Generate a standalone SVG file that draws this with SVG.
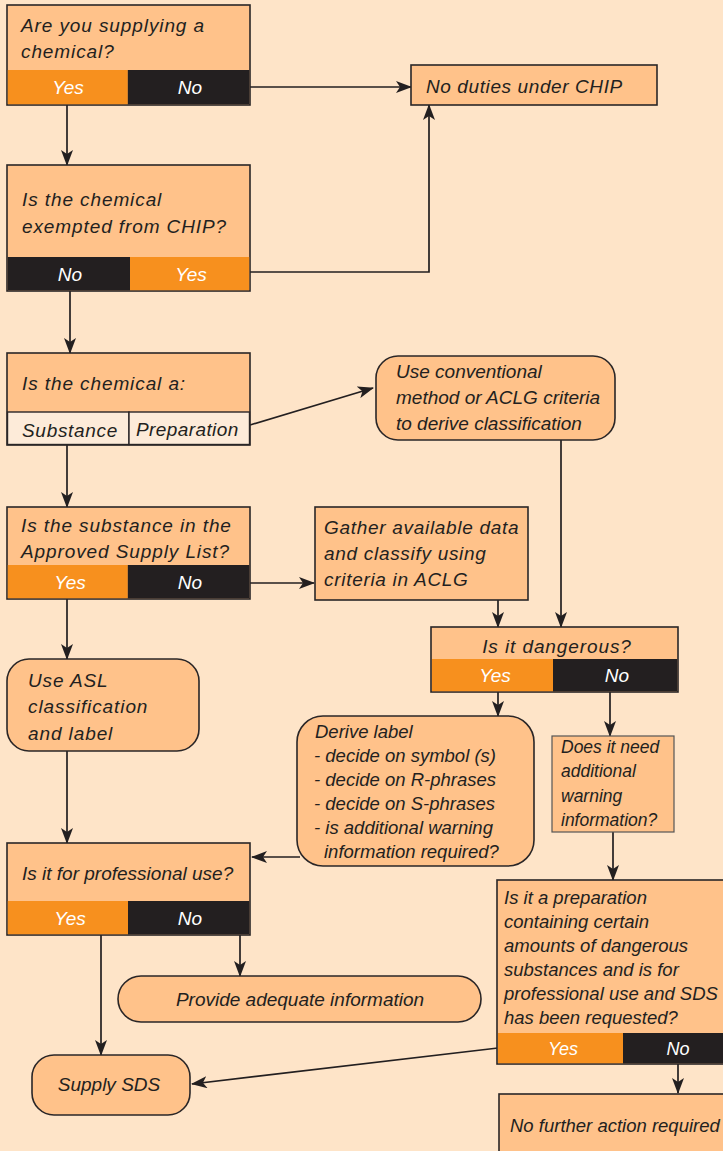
<svg xmlns="http://www.w3.org/2000/svg" width="723" height="1151" viewBox="0 0 723 1151">
<defs>
<marker id="ah" markerWidth="16" markerHeight="12" refX="15" refY="6" orient="auto" markerUnits="userSpaceOnUse">
<path d="M0,0 L16,6 L0,12 L4,6 z" fill="#231F20"/>
</marker>
<style>
.bg{fill:#FEE4C8}
.box{fill:#FFC28A;stroke:#2a2627;stroke-width:1.6}
.yes{fill:#F7901E}
.no{fill:#231F20}
.opt{fill:#FDEBD9;stroke:#2a2627;stroke-width:1.4}
.t{font-family:"Liberation Sans",Arial,sans-serif;font-style:italic;font-size:19px;fill:#231F20}
.ls{letter-spacing:0.9px}
.s{font-size:18.5px}
.xs{font-size:17.5px}
.w{font-family:"Liberation Sans",Arial,sans-serif;font-style:italic;font-size:19px;fill:#FFFFFF;text-anchor:middle}
.c{fill:none;stroke:#231F20;stroke-width:1.7}
</style>
</defs>
<rect class="bg" x="0" y="0" width="723" height="1151"/>

<g id="connectors">
<line class="c" x1="250" y1="87" x2="411" y2="87" marker-end="url(#ah)"/>
<line class="c" x1="67" y1="105" x2="67" y2="165" marker-end="url(#ah)"/>
<polyline class="c" points="250,272 429,272 429,105" marker-end="url(#ah)"/>
<line class="c" x1="70" y1="291" x2="70" y2="353" marker-end="url(#ah)"/>
<line class="c" x1="250" y1="425" x2="373" y2="388" marker-end="url(#ah)"/>
<line class="c" x1="67" y1="445" x2="67" y2="507" marker-end="url(#ah)"/>
<line class="c" x1="250" y1="583" x2="314" y2="583" marker-end="url(#ah)"/>
<line class="c" x1="561" y1="440" x2="561" y2="627" marker-end="url(#ah)"/>
<line class="c" x1="498" y1="600" x2="498" y2="627" marker-end="url(#ah)"/>
<line class="c" x1="67" y1="599" x2="67" y2="659" marker-end="url(#ah)"/>
<line class="c" x1="498" y1="692" x2="498" y2="716" marker-end="url(#ah)"/>
<line class="c" x1="610" y1="692" x2="610" y2="736" marker-end="url(#ah)"/>
<line class="c" x1="67" y1="751" x2="67" y2="843" marker-end="url(#ah)"/>
<line class="c" x1="300" y1="857" x2="252" y2="857" marker-end="url(#ah)"/>
<line class="c" x1="613" y1="832" x2="613" y2="880" marker-end="url(#ah)"/>
<line class="c" x1="101" y1="935" x2="101" y2="1055" marker-end="url(#ah)"/>
<line class="c" x1="240" y1="935" x2="240" y2="976" marker-end="url(#ah)"/>
<line class="c" x1="498" y1="1048" x2="192" y2="1084" marker-end="url(#ah)"/>
<line class="c" x1="678" y1="1064" x2="678" y2="1093" marker-end="url(#ah)"/>
</g>

<g id="q-supplying">
<rect class="box" x="7" y="5" width="243" height="100"/>
<rect class="yes" x="7.8" y="70" width="120" height="34.2"/>
<rect class="no" x="127.8" y="70" width="121.4" height="34.2"/>
<text class="t ls" x="21" y="32">Are you supplying a</text>
<text class="t ls" x="21" y="58">chemical?</text>
<text class="w" x="68" y="94">Yes</text>
<text class="w" x="190" y="94">No</text>
</g>

<g id="no-duties">
<rect class="box" x="411" y="65" width="246" height="40"/>
<text class="t" x="426" y="93" style="letter-spacing:0.6px">No duties under CHIP</text>
</g>

<g id="q-exempted">
<rect class="box" x="7" y="165" width="243" height="126"/>
<rect class="no" x="7.8" y="257" width="122.2" height="33.2"/>
<rect class="yes" x="130" y="257" width="119.2" height="33.2"/>
<text class="t ls" x="22" y="206">Is the chemical</text>
<text class="t ls" x="22" y="233">exempted from CHIP?</text>
<text class="w" x="70" y="281">No</text>
<text class="w" x="191" y="281">Yes</text>
</g>

<g id="q-chemical-a">
<rect class="box" x="7" y="353" width="243" height="92"/>
<rect class="opt" x="7.5" y="412" width="121.5" height="32.5"/>
<rect class="opt" x="129" y="412" width="120.5" height="32.5"/>
<text class="t ls" x="22" y="390">Is the chemical a:</text>
<text class="t" x="22" y="437" style="letter-spacing:0.7px">Substance</text>
<text class="t" x="136" y="436" style="letter-spacing:0.4px">Preparation</text>
</g>

<g id="use-conventional">
<rect class="box" x="376" y="356" width="239" height="84" rx="22"/>
<text class="t" x="396" y="378">Use conventional</text>
<text class="t" x="396" y="404">method or ACLG criteria</text>
<text class="t" x="396" y="430">to derive classification</text>
</g>

<g id="q-asl">
<rect class="box" x="7" y="507" width="243" height="92"/>
<rect class="yes" x="7.8" y="565" width="120" height="33.2"/>
<rect class="no" x="127.8" y="565" width="121.4" height="33.2"/>
<text class="t ls" x="21" y="532">Is the substance in the</text>
<text class="t ls" x="21" y="558">Approved Supply List?</text>
<text class="w" x="70" y="589">Yes</text>
<text class="w" x="190" y="589">No</text>
</g>

<g id="gather-data">
<rect class="box" x="315" y="507" width="213" height="93"/>
<text class="t" x="324" y="534" style="letter-spacing:0.7px">Gather available data</text>
<text class="t" x="324" y="560" style="letter-spacing:0.7px">and classify using</text>
<text class="t" x="324" y="586" style="letter-spacing:0.7px">criteria in ACLG</text>
</g>

<g id="q-dangerous">
<rect class="box" x="431" y="627" width="247" height="65"/>
<rect class="yes" x="432" y="659" width="121" height="32.2"/>
<rect class="no" x="553" y="659" width="124.2" height="32.2"/>
<text class="t ls" x="557" y="653" text-anchor="middle">Is it dangerous?</text>
<text class="w" x="495" y="682">Yes</text>
<text class="w" x="617" y="682">No</text>
</g>

<g id="use-asl">
<rect class="box" x="7" y="659" width="192" height="92" rx="22"/>
<text class="t ls" x="28" y="687">Use ASL</text>
<text class="t ls" x="28" y="713">classification</text>
<text class="t ls" x="28" y="740">and label</text>
</g>

<g id="derive-label">
<rect class="box" x="297" y="716" width="237" height="150" rx="26"/>
<text class="t s" x="315" y="738">Derive label</text>
<text class="t s" x="314" y="762">- decide on symbol (s)</text>
<text class="t s" x="314" y="786">- decide on R-phrases</text>
<text class="t s" x="314" y="810">- decide on S-phrases</text>
<text class="t s" x="314" y="834">- is additional warning</text>
<text class="t s" x="324" y="858">information required?</text>
</g>

<g id="q-warning">
<rect class="box" x="552" y="736" width="122" height="96" style="stroke-width:1.2;stroke:#555"/>
<text class="t xs" x="561" y="753">Does it need</text>
<text class="t xs" x="561" y="777">additional</text>
<text class="t xs" x="561" y="802">warning</text>
<text class="t xs" x="561" y="826">information?</text>
</g>

<g id="q-professional">
<rect class="box" x="7" y="843" width="243" height="92"/>
<rect class="yes" x="7.8" y="901" width="120.2" height="33.2"/>
<rect class="no" x="128" y="901" width="121.2" height="33.2"/>
<text class="t" x="22" y="880">Is it for professional use?</text>
<text class="w" x="70" y="925">Yes</text>
<text class="w" x="190" y="925">No</text>
</g>

<g id="q-preparation-sds">
<rect class="box" x="497" y="880" width="230" height="184"/>
<rect class="yes" x="498" y="1033" width="125" height="30.2"/>
<rect class="no" x="623" y="1033" width="100" height="30.2"/>
<text class="t s" x="504" y="904">Is it a preparation</text>
<text class="t s" x="504" y="928">containing certain</text>
<text class="t s" x="504" y="952">amounts of dangerous</text>
<text class="t s" x="504" y="976">substances and is for</text>
<text class="t s" x="504" y="1000">professional use and SDS</text>
<text class="t s" x="504" y="1024">has been requested?</text>
<text class="w" x="563" y="1055" style="font-size:18px">Yes</text>
<text class="w" x="678" y="1055" style="font-size:18px">No</text>
</g>

<g id="provide-info">
<rect class="box" x="118" y="976" width="363" height="46" rx="23"/>
<text class="t" x="300" y="1006" text-anchor="middle">Provide adequate information</text>
</g>

<g id="supply-sds">
<rect class="box" x="32" y="1055" width="158" height="60" rx="22"/>
<text class="t" x="109" y="1091" text-anchor="middle">Supply SDS</text>
</g>

<g id="no-further">
<rect class="box" x="499" y="1094" width="230" height="70"/>
<text class="t s" x="510" y="1132">No further action required</text>
</g>
</svg>
